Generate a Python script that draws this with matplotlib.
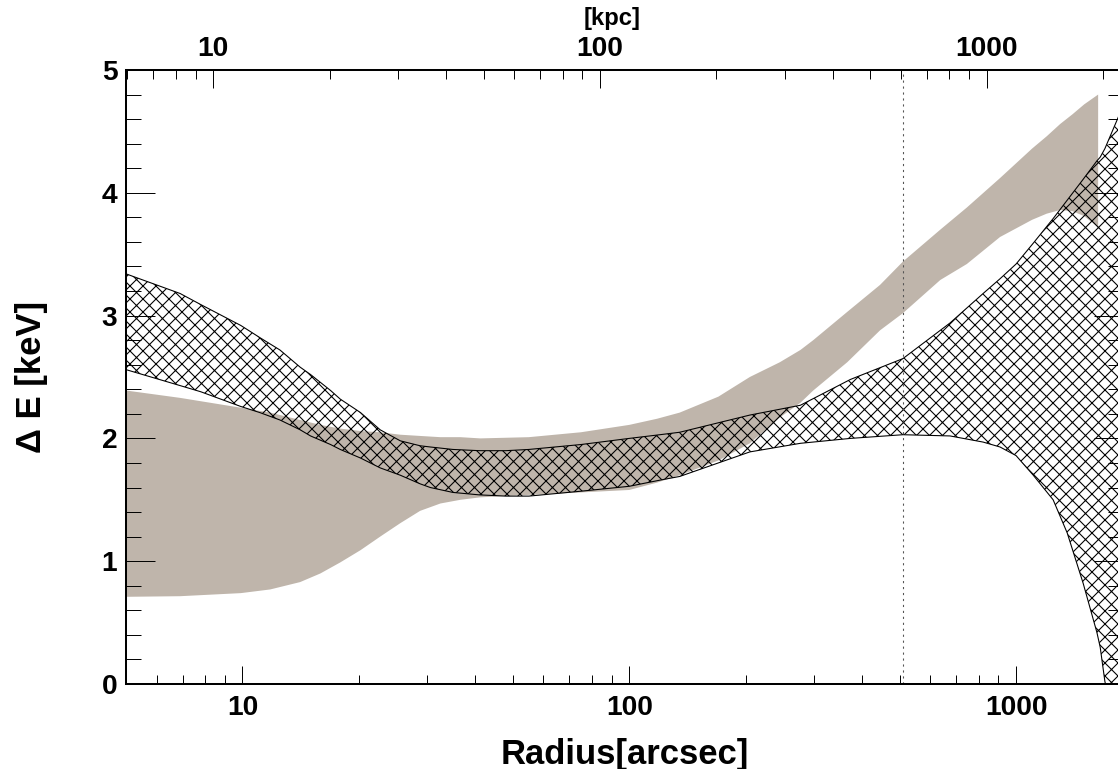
import numpy as np
import matplotlib
matplotlib.use('Agg')
import matplotlib.pyplot as plt
from matplotlib.ticker import MultipleLocator, FuncFormatter, NullFormatter

plt.rcParams['font.family'] = ['Liberation Sans', 'DejaVu Sans']
plt.rcParams['font.weight'] = 'bold'
plt.rcParams['axes.labelweight'] = 'bold'
plt.rcParams['hatch.linewidth'] = 1.0

# gray band (radius in arcsec, Delta E in keV)
gray_r = [5, 6.9, 9.9, 11.8, 14.1, 15.9, 17.9, 20.2, 22.7, 25.6, 28.8, 32.5, 36.6, 41.2, 55, 75, 100, 118,
          135, 170, 205, 245, 277, 299, 366, 445, 510, 637, 746, 909, 1000, 1100, 1200, 1300, 1400, 1500, 1630]
gray_lo = [0.71, 0.715, 0.74, 0.77, 0.83, 0.90, 0.99, 1.09, 1.20, 1.31, 1.41, 1.47, 1.50, 1.52, 1.54, 1.56,
           1.58, 1.64, 1.70, 1.82, 1.96, 2.17, 2.29, 2.39, 2.62, 2.88, 3.02, 3.29, 3.42, 3.64, 3.71, 3.78,
           3.83, 3.86, 3.85, 3.81, 3.72]
gray_hi = [2.39, 2.33, 2.25, 2.21, 2.15, 2.11, 2.08, 2.06, 2.05, 2.03, 2.02, 2.01, 2.01, 2.00, 2.01, 2.05,
           2.11, 2.16, 2.21, 2.34, 2.50, 2.62, 2.72, 2.80, 3.03, 3.25, 3.44, 3.70, 3.88, 4.12, 4.24, 4.36,
           4.46, 4.56, 4.64, 4.72, 4.80]

# hatched band
hatch_r = [5, 6.9, 7.8, 9.9, 11.1, 12.5, 14.1, 15, 16.9, 17.9, 20.2, 22.7, 25.6, 28.8, 30.6, 35, 41, 48, 55,
           75, 100, 120, 135, 205, 277, 373, 510, 675, 822, 909, 1000, 1108, 1225, 1247, 1356, 1491, 1618,
           1650, 1697, 1840, 1900]
hatch_hi = [3.34, 3.18, 3.09, 2.92, 2.82, 2.72, 2.58, 2.52, 2.39, 2.32, 2.21, 2.07, 1.98, 1.94, 1.93, 1.91,
            1.90, 1.90, 1.91, 1.95, 2.00, 2.03, 2.05, 2.19, 2.27, 2.48, 2.65, 2.94, 3.18, 3.30, 3.42, 3.59,
            3.76, 3.79, 3.94, 4.11, 4.26, 4.29, 4.36, 4.62, 4.75]
hatch_lo = [2.56, 2.43, 2.38, 2.26, 2.21, 2.15, 2.07, 2.02, 1.95, 1.91, 1.84, 1.76, 1.70, 1.63, 1.60, 1.56,
            1.54, 1.53, 1.53, 1.57, 1.61, 1.66, 1.69, 1.89, 1.96, 2.00, 2.03, 2.02, 1.97, 1.93, 1.86, 1.70,
            1.53, 1.50, 1.23, 0.82, 0.42, 0.30, 0.02, -0.45, -0.65]

r_vline = 510          # arcsec
kpc_per_arcsec = 1.19

DPI = 78
fig = plt.figure(figsize=(1118 / DPI, 769 / DPI), dpi=DPI)
ax = fig.add_axes([126 / 1118, 85 / 769, 997 / 1118, 614 / 769])

ax.fill_between(gray_r, gray_lo, gray_hi, facecolor='#bfb5ab', edgecolor='none', lw=0)
ax.fill_between(hatch_r, hatch_lo, hatch_hi, facecolor='none', edgecolor='black', hatch='xx', lw=1.0)
ax.axvline(r_vline, color='#555555', ls=(0, (2, 3.5)), lw=1)

ax.set_xscale('log')
ax.set_xlim(5, 1890)
ax.set_ylim(0, 5)

fmt = FuncFormatter(lambda v, p: f'{v:g}')
ax.xaxis.set_major_formatter(fmt)
ax.xaxis.set_minor_formatter(NullFormatter())
ax.yaxis.set_major_locator(MultipleLocator(1))
ax.yaxis.set_minor_locator(MultipleLocator(0.2))

ax.tick_params(which='both', direction='in', top=False, right=True)
ax.tick_params(axis='x', which='major', length=16.6, width=0.9, labelsize=26, pad=10)
ax.tick_params(axis='x', which='minor', length=8.3, width=0.9)
ax.tick_params(axis='y', which='major', length=26.8, width=0.9, labelsize=26, pad=8)
ax.tick_params(axis='y', which='minor', length=13.8, width=0.9)
for s in ax.spines.values():
    s.set_linewidth(1.85)

secax = ax.secondary_xaxis('top', functions=(lambda r: np.asarray(r) * kpc_per_arcsec,
                                             lambda d: np.asarray(d) / kpc_per_arcsec))
secax.xaxis.set_major_formatter(fmt)
secax.xaxis.set_minor_formatter(NullFormatter())
secax.tick_params(which='major', direction='in', length=16.6, width=0.9, labelsize=26, pad=7)
secax.tick_params(which='minor', direction='in', length=8.3, width=0.9)
secax.spines['top'].set_linewidth(1.85)
secax.set_xlabel('[kpc]', fontsize=22, fontweight='bold')
secax.xaxis.set_label_coords(0.4875, 1.073, transform=ax.transAxes)

ax.set_xlabel('Radius[arcsec]', fontsize=32, fontweight='bold')
ax.xaxis.set_label_coords(0.5005, -0.088)
ax.set_ylabel('\u0394 E [keV]', fontsize=32, fontweight='bold')
ax.yaxis.set_label_coords(-0.078, 0.5)

fig.savefig('out.png', dpi=DPI)
